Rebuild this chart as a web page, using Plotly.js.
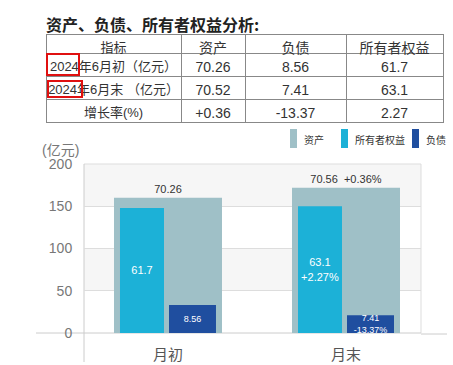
<!DOCTYPE html>
<html><head><meta charset="utf-8">
<script src="https://cdn.plot.ly/plotly-3.0.1.min.js"></script>
<style>html,body{margin:0;padding:0;background:#fff;}#chart{width:453px;height:365px;}</style>
</head><body><div id="chart"></div>
<script>
// ---- data ----
const categories = ['月初', '月末'];
const seriesNames = ['资产', '所有者权益', '负债'];
// bar heights as drawn in the picture (axis units)
const assetValues = [160, 172];
const equityValues = [148, 150];
const liabilityValues = [33, 21];
// labels shown on the bars
const assetLabels = ['70.26', '70.56  +0.36%'];
const equityLabels = ['61.7', '63.1<br>+2.27%'];
const liabilityLabels = ['8.56', '7.41<br>-13.37%'];
const yTicks = [0, 50, 100, 150, 200];
// table
const tableTitle = '资产、负债、所有者权益分析:';
const tableHeader = ['指标', '资产', '负债', '所有者权益'];
const tableRowLabels = ['2024年6月初（亿元）', '2024年6月末\u00a0（亿元）', '增长率(%)'];
const tableAssets = ['70.26', '70.52', '+0.36'];
const tableLiabilities = ['8.56', '7.41', '-13.37'];
const tableEquity = ['61.7', '63.1', '2.27'];
const unitLabel = '(亿元)';

// ---- layout helpers ----
const W = 453, H = 365;
const px = v => v / W;
const py = v => 1 - v / H;
const colors = ['#9fc0c7', '#1cb1d7', '#1f4e9f'];
const FONT = 'Liberation Sans, Arial, Noto Sans CJK SC, sans-serif';
const xs = categories.map((c, i) => i);

const traces = [
  {type: 'bar', x: xs, y: assetValues, name: seriesNames[0], marker: {color: colors[0]},
   offset: -0.3034, width: 0.6067, text: assetLabels, textposition: 'outside',
   textfont: {size: 11, color: '#333', family: FONT}, cliponaxis: false, constraintext: 'none', hoverinfo: 'none'},
  {type: 'bar', x: xs, y: equityValues, name: seriesNames[1], marker: {color: colors[1]},
   offset: -0.2697, width: 0.2472, text: equityLabels, textposition: 'inside', insidetextanchor: 'middle',
   textfont: {size: 11, color: '#fff', family: FONT}, constraintext: 'none', hoverinfo: 'none'},
  {type: 'bar', x: xs, y: liabilityValues, name: seriesNames[2], marker: {color: colors[2]},
   offset: 0.0056, width: 0.264, text: liabilityLabels, textposition: 'inside', insidetextanchor: 'middle',
   textfont: {size: 9, color: '#fff', family: FONT}, constraintext: 'none', cliponaxis: false, hoverinfo: 'none'},
  {type: 'table', domain: {x: [px(46), px(443)], y: [py(124), py(34)]},
   columnwidth: [135, 64, 101, 97],
   header: {values: tableHeader, align: 'center', height: 19,
            line: {color: '#888', width: 1}, fill: {color: '#fff'},
            font: {size: [13, 14, 14, 14], color: '#333', family: FONT}},
   cells: {values: [tableRowLabels, tableAssets, tableLiabilities, tableEquity], align: 'center', height: 23,
           line: {color: '#888', width: 1}, fill: {color: '#fff'},
           font: {size: [13, 14, 14, 14], color: '#333', family: FONT}}}
];

const shapes = [
  {type: 'rect', xref: 'paper', yref: 'y', x0: px(84), x1: px(421), y0: 150, y1: 200, fillcolor: '#f6f6f6', line: {width: 0}, layer: 'below'},
  {type: 'rect', xref: 'paper', yref: 'y', x0: px(84), x1: px(421), y0: 50, y1: 100, fillcolor: '#f6f6f6', line: {width: 0}, layer: 'below'},
  {type: 'line', xref: 'paper', yref: 'paper', x0: px(84), x1: px(421), y0: py(164), y1: py(164), line: {color: '#ddd', width: 1}, layer: 'below'},
  {type: 'line', xref: 'paper', yref: 'paper', x0: px(421), x1: px(421), y0: py(164), y1: py(333), line: {color: '#ddd', width: 1}, layer: 'below'},
  {type: 'line', xref: 'paper', yref: 'paper', x0: px(84), x1: px(84), y0: py(164), y1: py(362), line: {color: '#ccc', width: 1}, layer: 'below'},
  {type: 'line', xref: 'paper', yref: 'paper', x0: px(36), x1: px(421), y0: py(333), y1: py(333), line: {color: '#ccc', width: 1}, layer: 'below'},
  {type: 'line', xref: 'paper', yref: 'paper', x0: px(421), x1: px(447), y0: py(334), y1: py(334), line: {color: '#ccc', width: 1}, layer: 'below'},
  // red highlight boxes in the table
  {type: 'rect', xref: 'paper', yref: 'paper', x0: px(47), x1: px(79), y0: py(54), y1: py(75), line: {color: '#e01010', width: 2}},
  {type: 'rect', xref: 'paper', yref: 'paper', x0: px(48), x1: px(82), y0: py(81), y1: py(97), line: {color: '#e01010', width: 2}}
];

const legendX = [290, 341, 412];
const annotations = [
  {xref: 'paper', yref: 'paper', x: px(44), y: py(24), xanchor: 'left', yanchor: 'middle', showarrow: false,
   text: '<b>' + tableTitle + '</b>', font: {size: 16, color: '#222', family: 'Noto Sans CJK SC, sans-serif'}},
  {xref: 'paper', yref: 'paper', x: px(40), y: py(150), xanchor: 'left', yanchor: 'middle', showarrow: false,
   text: unitLabel, font: {size: 14, color: '#777', family: FONT}}
];
seriesNames.forEach((n, i) => {
  shapes.push({type: 'rect', xref: 'paper', yref: 'paper', x0: px(legendX[i]), x1: px(legendX[i] + 7),
               y0: py(129), y1: py(148), fillcolor: colors[i], line: {width: 0}});
  annotations.push({xref: 'paper', yref: 'paper', x: px(legendX[i] + 12), y: py(139), xanchor: 'left', yanchor: 'middle',
                    showarrow: false, text: n, font: {size: 10, color: '#333', family: 'Noto Sans CJK SC, sans-serif'}});
});

const layout = {
  width: W, height: H, margin: {l: 0, r: 0, t: 0, b: 0},
  paper_bgcolor: '#fff', plot_bgcolor: '#fff', showlegend: false, barmode: 'overlay',
  font: {family: FONT},
  xaxis: {domain: [px(84), px(421)], range: [-0.4719, 1.4213], tickvals: xs, ticktext: categories,
          showgrid: false, zeroline: false, showline: false, ticks: 'outside', ticklen: 8, tickcolor: 'rgba(0,0,0,0)',
          tickfont: {size: 15, color: '#555', family: 'Noto Sans CJK SC, sans-serif'}, fixedrange: true},
  yaxis: {domain: [py(333), py(164)], range: [0, 200], tickvals: yTicks, showgrid: true, gridcolor: '#ddd',
          zeroline: false, showline: false, ticks: 'outside', ticklen: 8, tickcolor: 'rgba(0,0,0,0)',
          tickfont: {size: 14, color: '#777', family: FONT}, fixedrange: true},
  shapes: shapes, annotations: annotations
};
Plotly.newPlot('chart', traces, layout, {displayModeBar: false, staticPlot: true});
</script></body></html>
